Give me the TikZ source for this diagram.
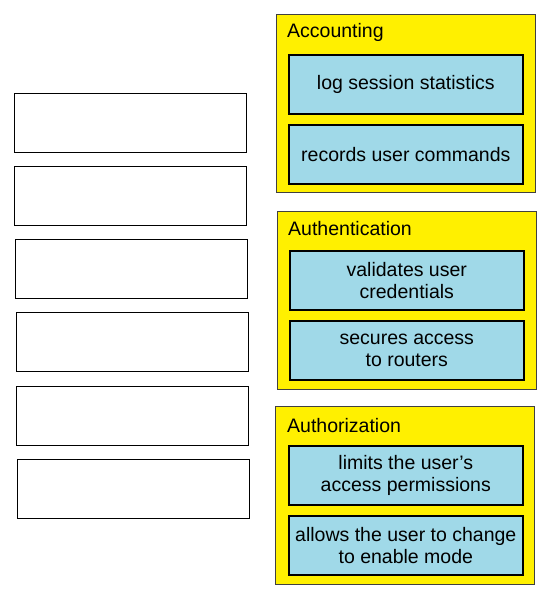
\documentclass[tikz,border=0pt]{standalone}
\usepackage{fontspec}
\setmainfont{Liberation Sans}
\definecolor{boxyellow}{RGB}{255,240,0}
\definecolor{itemblue}{RGB}{160,217,232}

\begin{document}
\begin{tikzpicture}[x=1pt,y=-1pt,font=\fontsize{19.5}{22.5}\selectfont,
  slot/.style={draw=black,line width=1pt,fill=white,anchor=north west,
    minimum width=232pt,minimum height=59pt,inner sep=0pt},
  group/.style={draw=black!75,line width=0.8pt,fill=boxyellow,anchor=north west,
    minimum width=259pt,minimum height=178pt,inner sep=0pt},
  title/.style={anchor=north west,inner sep=0pt},
  item/.style={draw=black,line width=1.6pt,fill=itemblue,anchor=north west,
    minimum width=234pt,minimum height=59pt,inner sep=0pt,align=center}]
  \useasboundingbox (0,0) rectangle (550,596);
  % empty answer slots
  \node[slot] (s1) at (14,93) {};
  \node[slot] (s2) at (14,166) {};
  \node[slot] (s3) at (15,239) {};
  \node[slot] (s4) at (16,312) {};
  \node[slot] (s5) at (16,386) {};
  \node[slot] (s6) at (17,459) {};
  % groups
  \node[group] (acc) at (276,14) {};
  \node[title] (acct) at (287,23) {Accounting};
  \node[item] (acc1) at (288,54) {log session statistics};
  \node[item] (acc2) at (288,124) {records user commands};
  \node[group] (aun) at (277,211) {};
  \node[title] (aunt) at (288,221) {Authentication};
  \node[item] (aun1) at (289,250) {validates user\\credentials};
  \node[item] (aun2) at (289,320) {secures access\\to routers};
  \node[group] (aut) at (275,406) {};
  \node[title] (autt) at (287,418) {Authorization};
  \node[item] (aut1) at (288,445) {limits the user’s\\access permissions};
  \node[item] (aut2) at (288,515) {allows the user to change\\to enable mode};
\end{tikzpicture}
\end{document}
